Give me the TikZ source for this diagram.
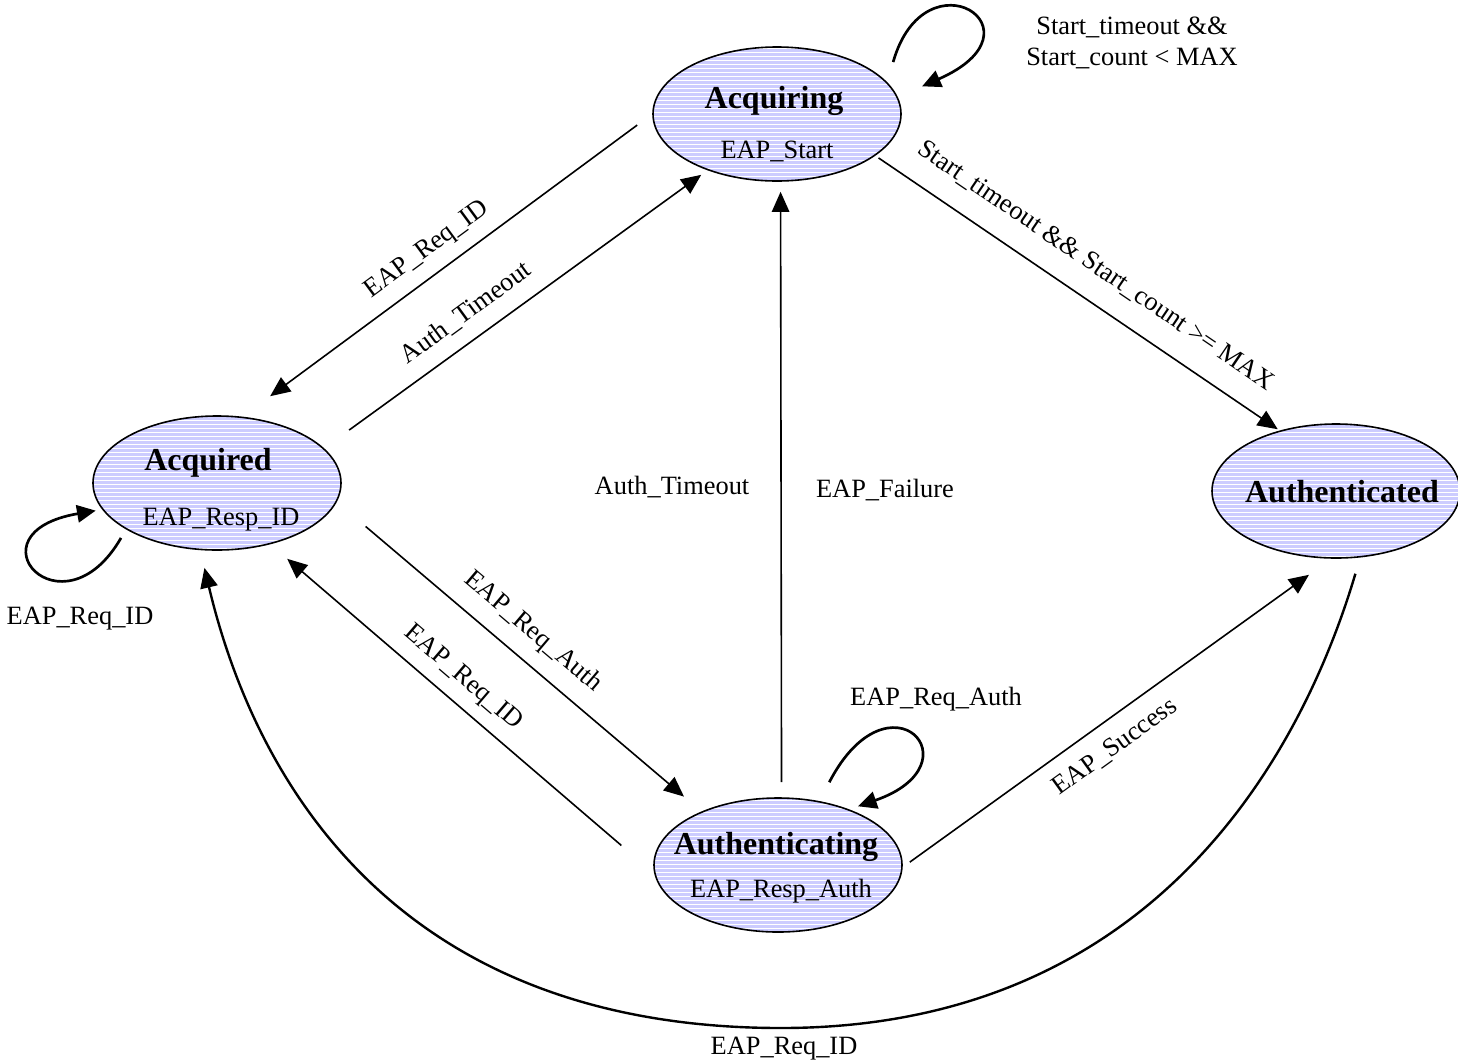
\documentclass[tikz,border=0pt]{standalone}
\usepackage{fontspec}
\setmainfont{Liberation Serif}
\usetikzlibrary{arrows.meta, shapes.geometric, patterns.meta}

\definecolor{statefill}{RGB}{204,204,255}

\tikzdeclarepattern{
    name=hstripes,
    type=uncolored,
    bottom left={(-.1pt,-.1pt)},
    top right={(4.1pt,3.1pt)},
    tile size={(4pt,3pt)},
    code={\fill (-.1pt,0pt) rectangle (4.1pt,.8pt);}
}

\begin{document}
\begin{tikzpicture}[
    x=0.75pt, y=-0.75pt,
    statenode/.style={
        draw,
        ellipse,
        line width=1.2pt,
        minimum width=186pt,
        minimum height=100.5pt,
        inner sep=0pt,
        preaction={fill=statefill},
        pattern=hstripes,
        pattern color=white
    },
    stitle/.style={font=\fontsize{24}{28}\selectfont\bfseries, inner sep=0pt},
    txt/.style={font=\fontsize{19.8}{23.8}\selectfont, inner sep=0pt, align=center},
    arrow/.style={-{Triangle[length=15pt, width=13pt]}, line width=1.2pt},
    selfloop/.style={-{Triangle[length=14pt, width=13pt]}, line width=2pt},
    backarc/.style={-{Triangle[length=15pt, width=13pt]}, line width=1.8pt}
]

\useasboundingbox (0,0) rectangle (1458,1061);

\node[statenode] (acquiring) at (777,114) {};
\node[statenode] (acquired) at (217,483) {};
\node[statenode] (authenticating) at (778,865) {};
\node[statenode] (authenticated) at (1336,491) {};

\node[stitle] (acquiringname) at ([shift={(-3,-13)}]acquiring.center) {Acquiring};
\node[txt] (acquiringout) at ([shift={(0,37)}]acquiring.center) {EAP\_Start};
\node[stitle] (acquiredname) at ([shift={(-9,-20)}]acquired.center) {Acquired};
\node[txt] (acquiredout) at ([shift={(4,37)}]acquired.center) {EAP\_Resp\_ID};
\node[stitle] (authenticatingname) at ([shift={(-2,-18)}]authenticating.center) {Authenticating};
\node[txt] (authenticatingout) at ([shift={(3,26)}]authenticating.center) {EAP\_Resp\_Auth};
\node[stitle] (authenticatedname) at ([shift={(6,1)}]authenticated.center) {Authenticated};

\node[txt, rotate=36.4] (reqidup) at (427,250) {EAP\_Req\_ID};
\node[txt, rotate=36.1] (timeoutup) at (466,313) {Auth\_Timeout};
\node[txt, rotate=-34.2] (startmax) at (1096,266) {Start\_timeout \&\& Start\_count >= MAX};
\node[txt] (startloop) at (1132,43) {Start\_timeout \&\&\\Start\_count < MAX};
\node[txt, rotate=-40.3] (reqauthdown) at (533,632) {EAP\_Req\_Auth};
\node[txt, rotate=-40.6] (reqidback) at (463,678) {EAP\_Req\_ID};
\node[txt] (timeoutmid) at (672,487) {Auth\_Timeout};
\node[txt] (failuremid) at (885,490) {EAP\_Failure};
\node[txt] (reqauthloop) at (936,699) {EAP\_Req\_Auth};
\node[txt, rotate=35.8] (success) at (1115,747) {EAP\_Success};
\node[txt] (reqidloop) at (80,619) {EAP\_Req\_ID};
\node[txt] (reqidarc) at (784,1049) {EAP\_Req\_ID};

\draw[arrow, shorten <=14pt, shorten >=25.8pt] (acquiring.180) -- (acquired.69);
\draw[arrow, shorten <=23.2pt, shorten >=5.8pt] (acquired.18) -- (acquiring.219);
\draw[arrow, shorten <=2.9pt, shorten >=1.7pt] (acquiring.337) -- (authenticated.133);
\draw[arrow, shorten <=28.4pt, shorten >=17.2pt] (acquired.351) -- (authenticating.145);
\draw[arrow, shorten <=32.5pt, shorten >=16.7pt] (authenticating.184) -- (acquired.311);
\draw[arrow, shorten <=11.3pt, shorten >=7.5pt] (authenticating.87) -- (acquiring.273);
\draw[arrow, shorten <=6.5pt, shorten >=20.6pt] (authenticating.359) -- (authenticated.266);
\draw[backarc, shorten <=12.7pt, shorten >=13.6pt] (authenticated.290) .. controls (1300,760) and (1150,1028) .. (781,1028) .. controls (380,1028) and (250,760) .. (acquired.256);

\draw[selfloop, shorten <=15.8pt, shorten >=19.9pt] (acquiring.16) .. controls (925,-50) and (1050,30) .. (acquiring.8);
\draw[selfloop, shorten <=15.9pt, shorten >=7pt] (authenticating.57) .. controls (889,667) and (980,764) .. (authenticating.38);
\draw[selfloop, shorten <=7.4pt, shorten >=4.9pt] (acquired.207) .. controls (62,640) and (-35,533) .. (acquired.193);
\end{tikzpicture}
\end{document}
